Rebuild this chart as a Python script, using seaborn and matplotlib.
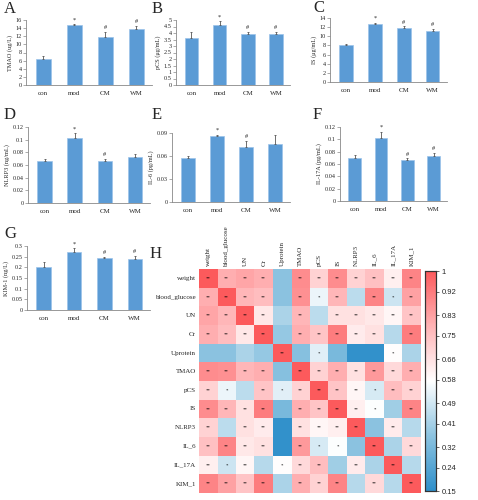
import numpy as np
import pandas as pd
import matplotlib
matplotlib.use("Agg")
import matplotlib.pyplot as plt
import seaborn as sns
from matplotlib.colors import LinearSegmentedColormap

# ---------------- data ----------------
groups = ["con", "mod", "CM", "WM"]

tmao_mean = [6.5, 14.7, 11.8, 13.7]
tmao_sd = [0.6, 0.3, 1.3, 0.8]
tmao_marks = ["", "*", "#", "#"]

pcs_mean = [3.65, 4.6, 3.9, 3.9]
pcs_sd = [0.45, 0.3, 0.2, 0.2]
pcs_marks = ["", "*", "#", "#"]

is_mean = [8.1, 12.7, 11.8, 11.2]
is_sd = [0.3, 0.3, 0.4, 0.5]
is_marks = ["", "*", "#", "#"]

nlrp3_mean = [0.067, 0.102, 0.067, 0.072]
nlrp3_sd = [0.002, 0.008, 0.003, 0.006]
nlrp3_marks = ["", "*", "#", ""]

il6_mean = [0.057, 0.086, 0.072, 0.076]
il6_sd = [0.003, 0.002, 0.008, 0.011]
il6_marks = ["", "*", "#", ""]

il17a_mean = [0.070, 0.102, 0.066, 0.073]
il17a_sd = [0.004, 0.010, 0.003, 0.005]
il17a_marks = ["", "*", "#", "#"]

kim1_mean = [0.200, 0.270, 0.243, 0.238]
kim1_sd = [0.025, 0.020, 0.007, 0.015]
kim1_marks = ["", "*", "#", "#"]

variables = ["weight", "blood_glucose", "UN", "Cr", "Uprotein", "TMAO",
             "pCS", "IS", "NLRP3", "IL_6", "IL_17A", "KIM_1"]
corr = [
    [1.00, 0.80, 0.82, 0.80, 0.36, 0.88, 0.70, 0.88, 0.70, 0.75, 0.62, 0.90],
    [0.80, 1.00, 0.78, 0.76, 0.36, 0.87, 0.54, 0.78, 0.45, 0.90, 0.48, 0.83],
    [0.82, 0.78, 1.00, 0.64, 0.42, 0.78, 0.45, 0.66, 0.66, 0.64, 0.60, 0.74],
    [0.80, 0.76, 0.64, 1.00, 0.38, 0.80, 0.74, 0.92, 0.63, 0.66, 0.44, 0.92],
    [0.36, 0.36, 0.42, 0.38, 1.00, 0.35, 0.52, 0.32, 0.16, 0.16, 0.58, 0.42],
    [0.88, 0.87, 0.78, 0.80, 0.35, 1.00, 0.70, 0.80, 0.66, 0.85, 0.68, 0.80],
    [0.70, 0.54, 0.45, 0.74, 0.52, 0.70, 1.00, 0.74, 0.60, 0.50, 0.76, 0.70],
    [0.88, 0.78, 0.66, 0.92, 0.32, 0.80, 0.74, 1.00, 0.62, 0.57, 0.40, 0.90],
    [0.70, 0.45, 0.66, 0.63, 0.16, 0.66, 0.60, 0.62, 1.00, 0.36, 0.63, 0.44],
    [0.75, 0.90, 0.64, 0.66, 0.16, 0.85, 0.50, 0.57, 0.36, 1.00, 0.42, 0.68],
    [0.62, 0.48, 0.60, 0.44, 0.58, 0.68, 0.76, 0.40, 0.63, 0.42, 1.00, 0.44],
    [0.90, 0.83, 0.74, 0.92, 0.42, 0.80, 0.70, 0.90, 0.44, 0.68, 0.44, 1.00],
]
stars = [
    "** ** ** ** - ** ** ** ** ** ** **",
    "** ** ** ** - ** * ** - ** * **",
    "** ** ** ** - ** - ** ** ** ** **",
    "** ** ** ** - ** ** ** ** ** - **",
    "- - - - ** - * - - - * -",
    "** ** ** ** - ** ** ** ** ** ** **",
    "** * - ** * ** ** ** ** * ** **",
    "** ** ** ** - ** ** ** ** * - **",
    "** - ** ** - ** ** ** ** - ** -",
    "** ** ** ** - ** * * - ** - **",
    "** * ** - * ** ** - ** - ** -",
    "** ** ** ** - ** ** ** - ** - **",
]
cbar_ticks = [1, 0.92, 0.83, 0.75, 0.66, 0.58, 0.49, 0.41, 0.32, 0.24, 0.15]

# ---------------- figure ----------------
W, H = 478, 500
fig = plt.figure(figsize=(W / 100, H / 100), dpi=100)
sns.set_style("white")
plt.rcParams["font.family"] = ["Liberation Serif", "DejaVu Serif"]

def axpx(l, t, r, b):
    return fig.add_axes([l / W, 1 - b / H, (r - l) / W, (b - t) / H])

bar_color = "#5b9bd5"

def bar_panel(box, letter, lpos, mean, sd, marks, ylabel, yticks):
    ax = axpx(*box)
    df = pd.DataFrame({"group": groups, "value": mean})
    sns.barplot(data=df, x="group", y="value", color=bar_color, saturation=1,
                width=0.48, errorbar=None, ax=ax, edgecolor="#9cc3ea", linewidth=0.5)
    x = np.arange(len(groups))
    ax.errorbar(x, mean, yerr=[np.zeros(len(sd)), sd], fmt="none",
                ecolor="#555555", elinewidth=0.6, capsize=1.0, capthick=0.6)
    ymax = yticks[-1]
    for i, m in enumerate(marks):
        if m:
            ax.text(i, mean[i] + sd[i] + ymax * 0.025, m, ha="center", va="bottom",
                    fontsize=4.5, color="#222222")
    ax.set_ylim(0, ymax)
    ax.set_xlim(-0.55, 3.5)
    ax.set_yticks(yticks)
    ax.set_yticklabels([f"{v:g}" for v in yticks])
    ax.set_xlabel("")
    ax.set_ylabel(ylabel, fontsize=4.5, labelpad=2)
    for s in ["top", "right"]:
        ax.spines[s].set_visible(False)
    for s in ["left", "bottom"]:
        ax.spines[s].set_color("#888888")
        ax.spines[s].set_linewidth(0.6)
    ax.tick_params(axis="y", labelsize=4.5, length=2, width=0.5, pad=1, left=True, color="#888888")
    ax.tick_params(axis="x", labelsize=5, length=0, pad=4)
    fig.text(lpos[0] / W, 1 - lpos[1] / H, letter, fontsize=12, ha="left", va="top")
    return ax

bar_panel((26, 20, 152, 85), "A", (4, 1), tmao_mean, tmao_sd, tmao_marks,
          "TMAO (ug/L)", [0, 2, 4, 6, 8, 10, 12, 14, 16])
bar_panel((176, 20, 290, 85), "B", (152, 1), pcs_mean, pcs_sd, pcs_marks,
          "pCS (μg/mL)", [0, 0.5, 1, 1.5, 2, 2.5, 3, 3.5, 4, 4.5, 5])
bar_panel((330, 18, 447, 82), "C", (313, 0), is_mean, is_sd, is_marks,
          "IS (μg/mL)", [0, 2, 4, 6, 8, 10, 12, 14])
bar_panel((28, 127, 150, 203), "D", (4, 107), nlrp3_mean, nlrp3_sd, nlrp3_marks,
          "NLRP3 (ng/mL)", [0, 0.02, 0.04, 0.06, 0.08, 0.1, 0.12])
bar_panel((172, 133, 290, 202), "E", (152, 107), il6_mean, il6_sd, il6_marks,
          "IL-6 (pg/mL)", [0, 0.03, 0.06, 0.09])
bar_panel((340, 127, 447, 201), "F", (313, 107), il17a_mean, il17a_sd, il17a_marks,
          "IL-17A (pg/mL)", [0, 0.02, 0.04, 0.06, 0.08, 0.1, 0.12])
bar_panel((27, 246, 150, 310), "G", (4, 226), kim1_mean, kim1_sd, kim1_marks,
          "KIM-1 (ng/L)", [0, 0.05, 0.1, 0.15, 0.2, 0.25, 0.3])

# ---------------- heatmap ----------------
cmap = LinearSegmentedColormap.from_list(
    "bwr_custom", [(0.0, "#2e8fca"), (0.25, "#8cc3e0"), (0.5, "#ffffff"),
                   (0.75, "#ffb3b5"), (1.0, "#fc5a5c")])
corr_df = pd.DataFrame(corr, index=variables, columns=variables)
annot = np.array([[("" if s == "-" else s) for s in row.split()] for row in stars])

hax = axpx(199, 269, 421, 493)
cax = axpx(425, 271, 436, 491)
sns.heatmap(corr_df, cmap=cmap, vmin=0.15, vmax=1, annot=annot, fmt="",
            annot_kws={"fontsize": 3.5, "color": "black"}, ax=hax, cbar_ax=cax,
            xticklabels=variables, yticklabels=variables)
hax.xaxis.tick_top()
hax.set_xticklabels(variables, rotation=90, fontsize=5)
hax.set_yticklabels(variables, rotation=0, fontsize=5)
hax.tick_params(length=0, pad=2)
hax.set_xlabel("")
hax.set_ylabel("")
fig.text(150 / W, 1 - 246 / H, "H", fontsize=12, ha="left", va="top")

cax.set_yticks(cbar_ticks)
cax.set_yticklabels([f"{v:g}" for v in cbar_ticks], family=["Liberation Sans", "DejaVu Sans"])
cax.tick_params(labelsize=5.5, length=2, width=0.5, pad=2)
for s in cax.spines.values():
    s.set_visible(True)
    s.set_linewidth(0.8)
    s.set_color("#333333")

fig.savefig("out.png", dpi=100)
